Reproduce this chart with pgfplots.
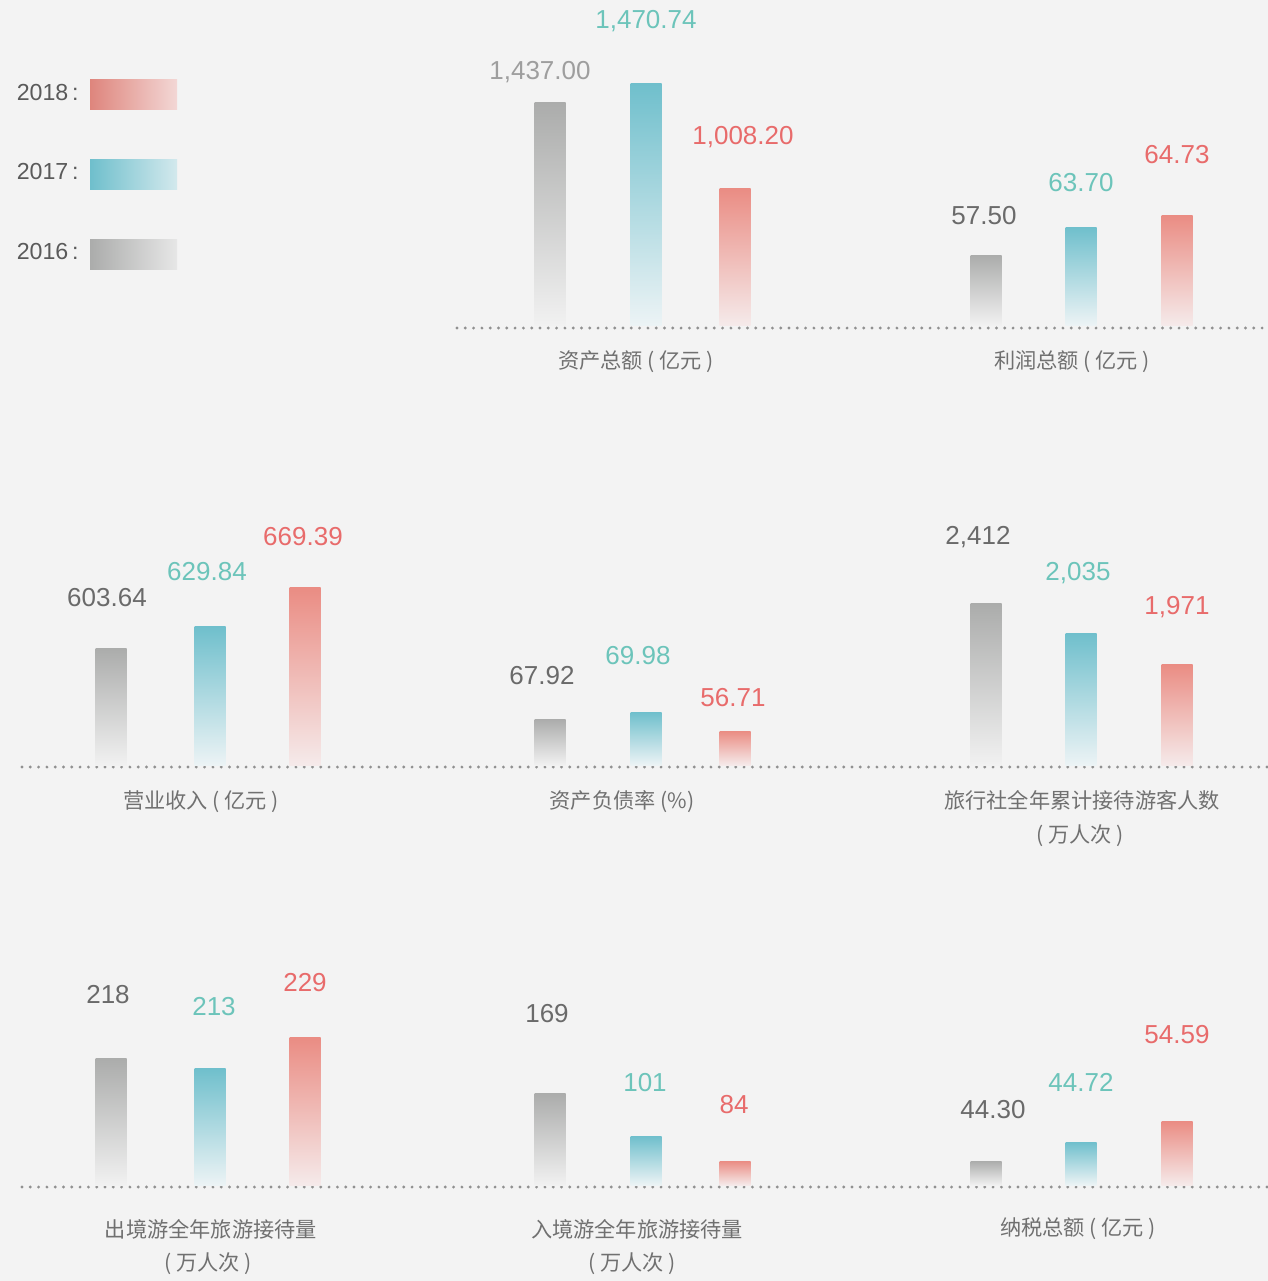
\documentclass[border=0pt]{standalone}
\usepackage{fontspec}
\setmainfont{Noto Sans CJK SC}
\newfontfamily\numfont{Liberation Sans}
\usepackage{pgfplots}
\pgfplotsset{compat=1.18}
\definecolor{bg}{HTML}{F3F3F3}
\definecolor{gT}{HTML}{ABACAB}\definecolor{gB}{HTML}{F1F1F1}
\definecolor{tT}{HTML}{6FBFCC}\definecolor{tB}{HTML}{ECF3F5}
\definecolor{rT}{HTML}{EA8C83}\definecolor{rB}{HTML}{F5EAEA}
\definecolor{gL}{HTML}{6A6A6A}\definecolor{gL2}{HTML}{9E9E9E}
\definecolor{tL}{HTML}{6CC4BA}\definecolor{rL}{HTML}{E86B6B}
\definecolor{catc}{HTML}{707070}
\definecolor{dotc}{HTML}{909090}
\definecolor{legc}{HTML}{5A5A5A}
\newcommand{\mybar}[3]{\addplot[ybar, bar width=15.5pt, bar shift=0pt, draw=none, top color=#3T, bottom color=#3B] coordinates {(#1,#2)};}
\newcommand{\mylab}[4]{\addplot[draw=none, mark=none, nodes near coords={#3}, every node near coord/.append style={anchor=center, text=#4, font=\numfont\fontsize{13pt}{13pt}\selectfont, inner sep=0pt}] coordinates {(#1,#2)};}
\pgfplotsset{panel/.style={hide axis, scale only axis, clip=false, ymin=0, ymax=320, height=160pt, anchor=south west}}
\begin{document}
\begin{tikzpicture}
\useasboundingbox (0,0) rectangle (634pt,-640.5pt);
\fill[bg] (0,0) rectangle (634pt,-640.5pt);
% legend
\begin{scope}[font=\numfont\fontsize{11.6pt}{11.6pt}\selectfont, text=legc]
\node[anchor=west, inner sep=0pt] at (8.2pt,-46.5pt) {2018\,:};
\node[anchor=west, inner sep=0pt] at (8.2pt,-86pt) {2017\,:};
\node[anchor=west, inner sep=0pt] at (8.2pt,-126pt) {2016\,:};
\end{scope}
\shade[left color=rT!95!black!100, right color=rB!80!rT] (45pt,-39.5pt) rectangle (88.5pt,-54.5pt);
\shade[left color=tT, right color=tB!80!tT] (45pt,-79.5pt) rectangle (88.5pt,-94.5pt);
\shade[left color=gT, right color=gB!85!gT] (45pt,-119.5pt) rectangle (88.5pt,-134.5pt);
% dotted baselines
\begin{scope}[dotc, line width=1.6pt, line cap=round, dash pattern=on 0pt off 4.15pt]
\draw (228.5pt,-164pt) -- (634pt,-164pt);
\draw (11pt,-383.5pt) -- (634pt,-383.5pt);
\draw (11pt,-593.5pt) -- (634pt,-593.5pt);
\end{scope}
% row 1
\begin{axis}[panel, xmin=420, xmax=850, width=215pt, at={(210pt,-162.5pt)}]
\mybar{550}{223}{g}\mybar{646}{242}{t}\mybar{735}{137}{r}
\mylab{540}{253}{1,437.00}{gL2}\mylab{646}{304}{1,470.74}{tL}\mylab{743}{188}{1,008.20}{rL}
\end{axis}
\begin{axis}[panel, xmin=850, xmax=1268, width=209pt, at={(425pt,-162.5pt)}]
\mybar{986}{70}{g}\mybar{1081}{98}{t}\mybar{1177}{110}{r}
\mylab{984}{109}{57.50}{gL}\mylab{1081}{142}{63.70}{tL}\mylab{1177}{170}{64.73}{rL}
\end{axis}
% row 2
\begin{axis}[panel, xmin=0, xmax=420, width=210pt, at={(0pt,-382.5pt)}]
\mybar{111}{117}{g}\mybar{210}{139}{t}\mybar{305}{178}{r}
\mylab{107}{167}{603.64}{gL}\mylab{207}{193}{629.84}{tL}\mylab{303}{228}{669.39}{rL}
\end{axis}
\begin{axis}[panel, xmin=420, xmax=850, width=215pt, at={(210pt,-382.5pt)}]
\mybar{550}{46}{g}\mybar{646}{53}{t}\mybar{735}{34}{r}
\mylab{542}{89}{67.92}{gL}\mylab{638}{109}{69.98}{tL}\mylab{733}{67}{56.71}{rL}
\end{axis}
\begin{axis}[panel, xmin=850, xmax=1268, width=209pt, at={(425pt,-382.5pt)}]
\mybar{986}{162}{g}\mybar{1081}{132}{t}\mybar{1177}{101}{r}
\mylab{978}{228}{2,412}{gL}\mylab{1078}{192}{2,035}{tL}\mylab{1177}{158}{1,971}{rL}
\end{axis}
% row 3
\begin{axis}[panel, xmin=0, xmax=420, width=210pt, at={(0pt,-592.5pt)}]
\mybar{111}{127}{g}\mybar{210}{117}{t}\mybar{305}{148}{r}
\mylab{108}{190}{218}{gL}\mylab{214}{178}{213}{tL}\mylab{305}{202}{229}{rL}
\end{axis}
\begin{axis}[panel, xmin=420, xmax=850, width=215pt, at={(210pt,-592.5pt)}]
\mybar{550}{92}{g}\mybar{646}{49}{t}\mybar{735}{24}{r}
\mylab{547}{171}{169}{gL}\mylab{645}{102}{101}{tL}\mylab{734}{80}{84}{rL}
\end{axis}
\begin{axis}[panel, xmin=850, xmax=1268, width=209pt, at={(425pt,-592.5pt)}]
\mybar{986}{24}{g}\mybar{1081}{43}{t}\mybar{1177}{64}{r}
\mylab{993}{75}{44.30}{gL}\mylab{1081}{103}{44.72}{tL}\mylab{1177}{150}{54.59}{rL}
\end{axis}
% category labels
\begin{scope}[font=\fontsize{10.6pt}{12pt}\selectfont, text=catc]
\node at (318pt,-181pt) {资产总额 ( 亿元 )};
\node at (536pt,-181pt) {利润总额 ( 亿元 )};
\node at (100.5pt,-401pt) {营业收入 ( 亿元 )};
\node at (311pt,-401pt) {资产负债率 (\%)};
\node at (541pt,-400pt) {旅行社全年累计接待游客人数};
\node at (540pt,-418pt) {( 万人次 )};
\node at (105.5pt,-614.5pt) {出境游全年旅游接待量};
\node at (104pt,-632pt) {( 万人次 )};
\node at (318.5pt,-614.5pt) {入境游全年旅游接待量};
\node at (316pt,-632pt) {( 万人次 )};
\node at (539pt,-614.5pt) {纳税总额 ( 亿元 )};
\end{scope}
\end{tikzpicture}
\end{document}
